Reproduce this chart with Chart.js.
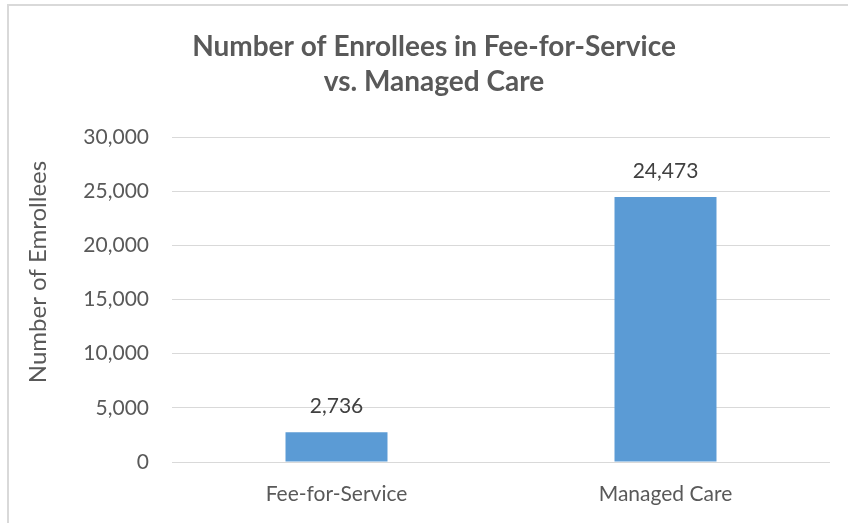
<!DOCTYPE html>
<html>
<head>
<meta charset="utf-8">
<script src="https://cdn.jsdelivr.net/npm/chart.js@4"></script>
<style>
  html, body { margin: 0; padding: 0; background: #fff; }
  #wrap { position: relative; width: 848px; height: 523px; overflow: hidden; }
  #frame { position: absolute; left: 7px; top: 4px; width: 900px; height: 600px;
           border-top: 2px solid #d9d9d9; border-left: 2px solid #d9d9d9; pointer-events: none; }
  canvas { position: absolute; left: 0; top: 0; }
</style>
</head>
<body>
<div id="wrap">
  <canvas id="chart" width="848" height="523"></canvas>
  <div id="frame"></div>
</div>
<script>
// chart data
const categories = ["Fee-for-Service", "Managed Care"];
const enrollees = [2736, 24473];
const yTicks = [0, 5000, 10000, 15000, 20000, 25000, 30000];

const titleLines = ["Number of Enrollees in Fee-for-Service", "vs. Managed Care"];
const yAxisTitle = "Number of Emrollees";

const FONT = "Lato, 'Open Sans', sans-serif";
const GRAY = "#595959";

// titles + value labels drawn on top
const labelsPlugin = {
  id: "labels",
  afterDraw(chart) {
    const ctx = chart.ctx;
    ctx.save();
    ctx.fillStyle = GRAY;
    ctx.textAlign = "center";
    ctx.textBaseline = "middle";
    ctx.font = "bold 28px " + FONT;
    ctx.fillText(titleLines[0], 434, 47);
    ctx.fillText(titleLines[1], 434, 82);

    ctx.font = "24px " + FONT;
    ctx.translate(38, 272);
    ctx.rotate(-Math.PI / 2);
    ctx.fillText(yAxisTitle, 0, 0);
    ctx.restore();

    ctx.save();
    ctx.fillStyle = "#404040";
    ctx.font = "21px " + FONT;
    ctx.textAlign = "center";
    ctx.textBaseline = "middle";
    chart.getDatasetMeta(0).data.forEach((bar, i) => {
      ctx.fillText(enrollees[i].toLocaleString("en-US"), bar.x, bar.y - 26);
    });
    ctx.restore();
  }
};

new Chart(document.getElementById("chart"), {
  type: "bar",
  data: {
    labels: categories,
    datasets: [{
      data: enrollees,
      backgroundColor: "#5b9bd5",
      categoryPercentage: 1,
      barPercentage: 0.31
    }]
  },
  options: {
    responsive: false,
    animation: false,
    layout: { padding: { top: 137, right: 18, left: 0, bottom: 0 } },
    plugins: {
      legend: { display: false },
      tooltip: { enabled: false }
    },
    scales: {
      y: {
        min: 0,
        max: 30000,
        afterFit: (s) => { s.width = 172; },
        afterBuildTicks: (s) => { s.ticks = yTicks.map(v => ({ value: v })); },
        ticks: {
          color: GRAY,
          padding: 23,
          font: { family: FONT, size: 21 },
          callback: (v) => v.toLocaleString("en-US")
        },
        grid: { color: "#d9d9d9", lineWidth: 1, drawTicks: false },
        border: { display: false }
      },
      x: {
        afterFit: (s) => { s.height = 61; },
        ticks: {
          color: GRAY,
          padding: 20,
          font: { family: FONT, size: 21 }
        },
        grid: { display: false, drawTicks: false },
        border: { display: false }
      }
    }
  },
  plugins: [labelsPlugin]
});
</script>
</body>
</html>
